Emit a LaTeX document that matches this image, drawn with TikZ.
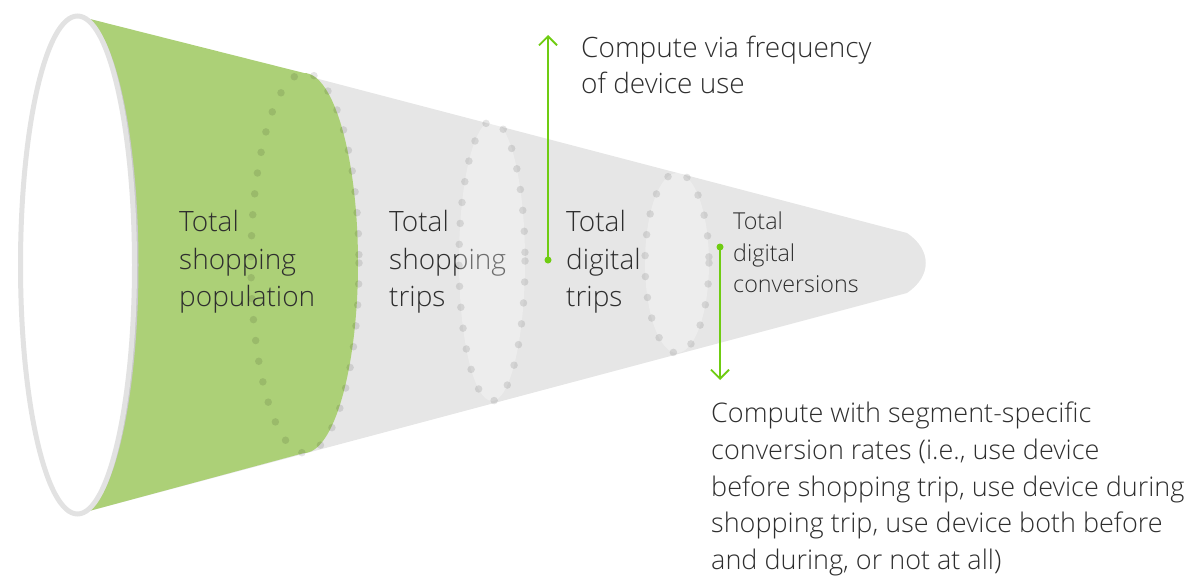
\documentclass[tikz,border=0pt]{standalone}
\usepackage{fontspec}
\setmainfont{Open Sans Light}
\usetikzlibrary{arrows.meta}
\definecolor{conegray}{HTML}{E6E6E6}
\definecolor{rimgray}{HTML}{E2E2E2}
\definecolor{rimshade}{HTML}{C9C9C9}
\definecolor{popgreen}{HTML}{ACD077}
\definecolor{linkgreen}{HTML}{6FCC12}
\definecolor{ink}{HTML}{2E2E2E}
\tikzset{
  label/.style={anchor=north west, inner sep=0pt, align=left, text=ink},
  biglabel/.style={label, font=\fontsize{28}{37.5}\selectfont},
  smalllabel/.style={label, font=\fontsize{23.3}{31.5}\selectfont},
  notelabel/.style={label, font=\fontsize{28}{36}\selectfont},
  widenote/.style={label, font=\fontsize{27}{36.7}\selectfont},
  dotring/.style={draw=black, draw opacity=0.1, line width=7.5pt, line cap=round,
                  dash pattern=on 0pt off 21pt},
  haze/.style={fill=white, fill opacity=0.3},
  link/.style={draw=linkgreen, line width=1.8pt,
               -{Straight Barb[length=9pt, width=18pt, line width=1.8pt]}},
  linkdot/.style={fill=linkgreen, circle, inner sep=0pt, minimum size=7pt}
}
\begin{document}
\begin{tikzpicture}[x=1pt, y=-1pt]
\useasboundingbox (0,0) rectangle (1193,576);

% cone body with rounded tip
\fill[conegray] (78,16) -- (907,233)
  .. controls (932,250) and (932,276) .. (907,293)
  -- (78,514) -- cycle;

% green segment of the total population
\fill[popgreen] (78,16) -- (304,73)
  arc[start angle=-90, end angle=90, x radius=54, y radius=190]
  -- (78,514) -- cycle;

% open rim of the cone
\draw[rimshade, line width=2pt] (78,16)
  arc[start angle=-90, end angle=90, x radius=59.5, y radius=249];
\draw[rimgray, line width=5pt, fill=white] (77.5,265) ellipse [x radius=57, y radius=249];

% stage labels
\node[biglabel] (pop) at (179,210.5) {Total\\shopping\\population};
\node[biglabel] (trips) at (389,210.5) {Total\\shopping\\trips};
\node[biglabel] (dtrips) at (566,210.5) {Total\\digital\\trips};
\node[smalllabel] (conv) at (733,212) {Total\\digital\\conversions};

% dotted cross-sections
\fill[haze] (492,261) ellipse [x radius=33, y radius=140];
\fill[haze] (677,263) ellipse [x radius=32, y radius=90];
\draw[dotring] (305,263) ellipse [x radius=54, y radius=190];
\draw[dotring] (492,261) ellipse [x radius=33, y radius=140];
\draw[dotring] (677,263) ellipse [x radius=32, y radius=90];

% notes
\node[notelabel] (freq) at (581,35.5) {Compute via frequency\\of device use};
\node[widenote] (rates) at (711,402) {Compute with segment-specific\\conversion rates (i.e., use device\\before shopping trip, use device during\\shopping trip, use device both before\\and during, or not at all)};

% connectors
\node[linkdot] (upstart) at (548,260) {};
\coordinate (uptip) at (548,35);
\draw[link] (upstart.center) -- (uptip);
\node[linkdot] (downstart) at (720,247) {};
\coordinate (downtip) at (720,380);
\draw[link] (downstart.center) -- (downtip);
\end{tikzpicture}
\end{document}
